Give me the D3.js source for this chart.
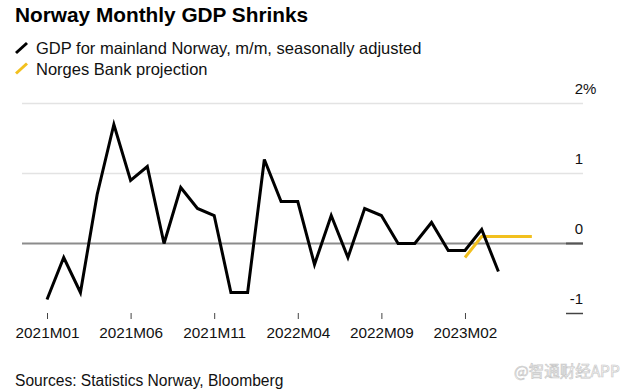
<!DOCTYPE html>
<html><head><meta charset="utf-8">
<script src="https://cdn.jsdelivr.net/npm/d3@7"></script>
<style>
html,body{margin:0;padding:0;background:#fff;}
svg{display:block;font-family:"Liberation Sans",Arial,Helvetica,sans-serif;}
</style></head>
<body><svg id="c" width="632" height="392"></svg>
<script>
// Data
const months = ["2021M01","2021M02","2021M03","2021M04","2021M05","2021M06","2021M07","2021M08","2021M09","2021M10","2021M11","2021M12",
"2022M01","2022M02","2022M03","2022M04","2022M05","2022M06","2022M07","2022M08","2022M09","2022M10","2022M11","2022M12",
"2023M01","2023M02","2023M03","2023M04"];
const gdpValues = [-0.8,-0.2,-0.7,0.7,1.7,0.9,1.1,0.0,0.8,0.5,0.4,-0.7,
-0.7,1.2,0.6,0.6,-0.3,0.4,-0.2,0.5,0.4,0.0,0.0,0.3,
-0.1,-0.1,0.2,-0.4];
const projMonths = ["2023M02","2023M03","2023M04","2023M05","2023M06"];
const projValues = [-0.2,0.1,0.1,0.1,0.1];
const xTickLabels = ["2021M01","2021M06","2021M11","2022M04","2022M09","2023M02"];
const yTicks = [2,1,0,-1];
const allMonths = months.concat(["2023M05","2023M06","2023M07","2023M08","2023M09"]);

const svg = d3.select("#c");
const idx = m => allMonths.indexOf(m);
const x = d3.scaleLinear().domain([0, 32]).range([47, 582]);
const y = d3.scaleLinear().domain([-1, 2]).range([313.5, 103.5]);
const gridL = 22, gridR = 583;

// Title
svg.append("text").attr("x",15).attr("y",22).attr("font-size",20.8).attr("font-weight","bold")
  .attr("fill","#000").text("Norway Monthly GDP Shrinks");

// Legend
const legend = [{label:"GDP for mainland Norway, m/m, seasonally adjusted", color:"#000"},
                {label:"Norges Bank projection", color:"#f2c01e"}];
legend.forEach((d,i)=>{
  const by = 54 + i*20.5;
  svg.append("line").attr("x1",16).attr("y1",by-1).attr("x2",27).attr("y2",by-11)
    .attr("stroke",d.color).attr("stroke-width",3);
  svg.append("text").attr("x",36).attr("y",by).attr("font-size",16.5).attr("fill","#111").text(d.label);
});

// Gridlines
yTicks.forEach(t=>{
  const yy = y(t);
  if (t === -1) {
    svg.append("line").attr("x1",566).attr("x2",gridR).attr("y1",yy).attr("y2",yy)
      .attr("stroke","#444").attr("stroke-width",1.5);
  } else if (t === 0) {
    svg.append("line").attr("x1",gridL).attr("x2",gridR).attr("y1",yy).attr("y2",yy)
      .attr("stroke","#8c8c8c").attr("stroke-width",2);
    svg.append("line").attr("x1",566).attr("x2",gridR).attr("y1",yy).attr("y2",yy)
      .attr("stroke","#555").attr("stroke-width",2);
  } else {
    svg.append("line").attr("x1",gridL).attr("x2",gridR).attr("y1",yy).attr("y2",yy)
      .attr("stroke","#e3e3e3").attr("stroke-width",1.5);
  }
  svg.append("text").attr("x",583).attr("y",yy-10).attr("text-anchor","end")
    .attr("font-size",15).attr("fill","#111").text(t);
  if (t === 2) {
    svg.append("text").attr("x",583).attr("y",yy-10).attr("font-size",15).attr("fill","#111").text("%");
  }
});

// X axis ticks
const xAxis = d3.axisBottom(x).tickValues(xTickLabels.map(idx))
  .tickFormat(v => allMonths[v]).tickSize(6).tickPadding(8);
const gx = svg.append("g").attr("transform","translate(0,313)").call(xAxis);
gx.select(".domain").remove();
gx.selectAll(".tick line").attr("stroke","#444").attr("stroke-width",1);
gx.selectAll(".tick text").attr("font-size",15.3).attr("fill","#111")
  .attr("font-family","Liberation Sans, Arial, sans-serif");

// Lines
const line = d3.line().x(d=>x(d[0])).y(d=>y(d[1]));
svg.append("path").datum(projMonths.map((m,i)=>[idx(m), projValues[i]]))
  .attr("d",line).attr("fill","none").attr("stroke","#f2c01e").attr("stroke-width",3);
svg.append("path").datum(months.map((m,i)=>[idx(m), gdpValues[i]]))
  .attr("d",line).attr("fill","none").attr("stroke","#000").attr("stroke-width",3)
  .attr("stroke-linejoin","miter");

// Source
svg.append("text").attr("x",15).attr("y",386).attr("font-size",15.6).attr("fill","#111")
  .text("Sources: Statistics Norway, Bloomberg");

// Watermark
svg.append("text").attr("x",514).attr("y",377).attr("font-size",15.5)
  .attr("font-family","Noto Sans CJK SC, sans-serif")
  .attr("fill","#fff").attr("stroke","#c8c8c8").attr("stroke-width",0.7)
  .text("@智通财经APP");
</script></body></html>
